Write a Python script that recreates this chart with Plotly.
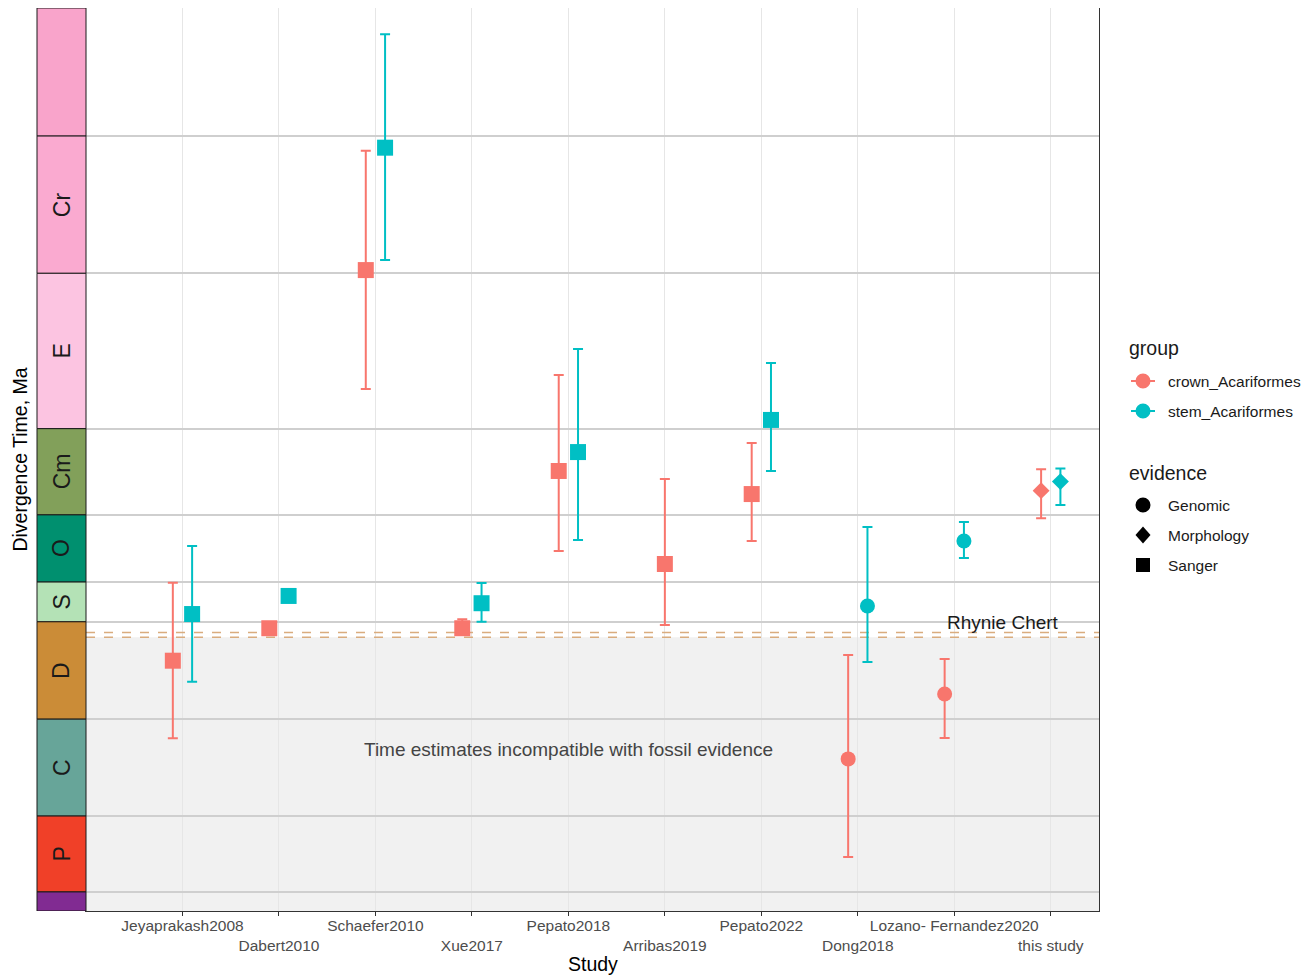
import plotly.graph_objects as go

# ---------------- data ----------------
studies = ["Jeyaprakash2008", "Dabert2010", "Schaefer2010", "Xue2017", "Pepato2018",
           "Arribas2019", "Pepato2022", "Dong2018", "Lozano- Fernandez2020", "this study"]
evidence = ["Sanger", "Sanger", "Sanger", "Sanger", "Sanger",
            "Sanger", "Sanger", "Genomic", "Genomic", "Morphology"]

crown_mean = [395.1, 415.2, 637.0, 415.2, 512.6, 455.0, 498.3, 334.3, 374.5, 500.4]
crown_low = [347.1, None, 563.4, 412.0, 463.0, 417.2, 469.2, 273.6, 347.3, 483.3]
crown_high = [443.4, None, 710.9, 420.8, 572.0, 507.6, 529.9, 398.7, 396.2, 513.6]

stem_mean = [424.0, 435.2, 712.8, 430.7, 524.3, None, 544.2, 429.0, 469.2, 506.0]
stem_low = [382.1, None, 643.2, 419.3, 469.9, None, 512.6, 394.3, 458.7, 491.5]
stem_high = [466.1, None, 783.0, 443.2, 588.1, None, 579.5, 477.9, 481.0, 514.2]

period_abbr = ["", "Cr", "E", "Cm", "O", "S", "D", "C", "P", ""]
period_start = [1000.0, 720.0, 635.0, 538.8, 485.4, 443.8, 419.2, 358.9, 298.9, 251.9]
period_end = [720.0, 635.0, 538.8, 485.4, 443.8, 419.2, 358.9, 298.9, 251.9, 201.4]
period_colors = ["#F9A4CB", "#FAAAD0", "#FCC4E1", "#82A05A", "#00906F",
                 "#B4E2B6", "#CB8C37", "#67A599", "#F04028", "#812B92"]

rhynie_chert = [412.5, 409.6]
fossil_floor = 409.6

group_names = ["crown_Acariformes", "stem_Acariformes"]
group_colors = ["#F8766D", "#00BFC4"]
evidence_levels = ["Genomic", "Morphology", "Sanger"]
evidence_symbols = {"Genomic": "circle", "Morphology": "diamond", "Sanger": "square"}
evidence_sizes = {"Genomic": 15, "Morphology": 13, "Sanger": 16}

# ---------------- layout constants ----------------
BODY = 8  # default page margin around the plot div
W, H = 1300, 967
ML, MR, MT, MB = 78, 209, 0, 64
YR = [240.1, 799.3]
XR = [0, 10.5]
PW = W - ML - MR
PH = H - MT - MB
FONT = "Liberation Sans, Arial, Helvetica, sans-serif"
TITLE_SIZE = 19.5
NOTE_SIZE = 19
TICK_SIZE = 15.5


def xp(px):
    """page pixel x -> paper fraction"""
    return (px - BODY - ML) / PW


def yp(py):
    """page pixel y -> paper fraction"""
    return (BODY + H - MB - py) / PH


fig = go.Figure()

# ---------------- data traces ----------------
for gi, (gname, mean, low, high) in enumerate([
        (group_names[0], crown_mean, crown_low, crown_high),
        (group_names[1], stem_mean, stem_low, stem_high)]):
    xs, ys, ep, em, syms, sizes, names = [], [], [], [], [], [], []
    for i, m in enumerate(mean):
        if m is None:
            continue
        other = stem_mean[i] if gi == 0 else crown_mean[i]
        off = 0.0 if other is None else (-0.1 if gi == 0 else 0.1)
        xs.append(i + 1 + off)
        ys.append(m)
        ep.append(None if high[i] is None else high[i] - m)
        em.append(None if low[i] is None else m - low[i])
        syms.append(evidence_symbols[evidence[i]])
        sizes.append(evidence_sizes[evidence[i]])
        names.append(studies[i])
    fig.add_trace(go.Scatter(
        x=xs, y=ys, mode="markers", name=gname, showlegend=False,
        marker=dict(color=group_colors[gi], symbol=syms, size=sizes, opacity=1,
                    line=dict(width=0)),
        error_y=dict(type="data", symmetric=False, array=ep, arrayminus=em,
                     color=group_colors[gi], thickness=2, width=5),
        hovertext=names,
    ))

shapes = []
annotations = []

# grey "incompatible" zone
shapes.append(dict(type="rect", xref="x", yref="y", x0=XR[0], x1=XR[1],
                   y0=YR[0], y1=fossil_floor, fillcolor="#F1F1F1",
                   line=dict(width=0), layer="below"))
# Rhynie chert dashed lines
for rc in rhynie_chert:
    shapes.append(dict(type="line", xref="x", yref="y", x0=XR[0], x1=XR[1], y0=rc, y1=rc,
                       line=dict(color="#D9AC7E", width=1.5, dash="dash"), layer="between"))

# geologic period strip
sx0 = xp(37)
for abbr, s, e, c in zip(period_abbr, period_start, period_end, period_colors):
    top = min(s, YR[1])
    bot = max(e, YR[0])
    if top <= bot:
        continue
    shapes.append(dict(type="rect", xref="paper", yref="y", x0=sx0, x1=0,
                       y0=bot, y1=top, fillcolor=c, line=dict(color="#1a1a1a", width=1),
                       layer="above"))
    if abbr:
        annotations.append(dict(xref="paper", yref="y", x=sx0 / 2, y=(top + bot) / 2,
                                xanchor="center", yanchor="middle",
                                text=abbr, showarrow=False, textangle=-90,
                                font=dict(family=FONT, size=23, color="#1a1a1a")))

annotations.append(dict(xref="x", yref="y", x=9.505, y=418.7, text="Rhynie Chert",
                        xanchor="center", yanchor="middle",
                        showarrow=False, font=dict(family=FONT, size=NOTE_SIZE, color="#1a1a1a")))
annotations.append(dict(xref="x", yref="y", x=5.0, y=340,
                        xanchor="center", yanchor="middle",
                        text="Time estimates incompatible with fossil evidence",
                        showarrow=False, font=dict(family=FONT, size=NOTE_SIZE, color="#444444")))

# x-axis title (placed below the two rows of study labels)
annotations.append(dict(xref="paper", yref="paper", x=0.5, y=yp(964),
                        xanchor="center", yanchor="middle", text="Study", showarrow=False,
                        font=dict(family=FONT, size=TITLE_SIZE, color="#000000")))

# ---------------- manual legend ----------------
annotations.append(dict(xref="paper", yref="paper", x=xp(1127), y=yp(348), xanchor="left",
                        yanchor="middle", text="group", showarrow=False,
                        font=dict(family=FONT, size=TITLE_SIZE, color="#1a1a1a")))
for k, (gname, col) in enumerate(zip(group_names, group_colors)):
    cy = 381 + 30 * k
    shapes.append(dict(type="line", xref="paper", yref="paper", xsizemode="pixel",
                       ysizemode="pixel", xanchor=xp(1143), yanchor=yp(cy),
                       x0=-12, x1=12, y0=0, y1=0, line=dict(color=col, width=2)))
    shapes.append(dict(type="circle", xref="paper", yref="paper", xsizemode="pixel",
                       ysizemode="pixel", xanchor=xp(1143), yanchor=yp(cy),
                       x0=-7.5, x1=7.5, y0=-7.5, y1=7.5, fillcolor=col, line=dict(width=0)))
    annotations.append(dict(xref="paper", yref="paper", x=xp(1166), y=yp(cy), xanchor="left",
                            yanchor="middle", text=gname, showarrow=False,
                            font=dict(family=FONT, size=TICK_SIZE, color="#1a1a1a")))

annotations.append(dict(xref="paper", yref="paper", x=xp(1127), y=yp(473), xanchor="left",
                        yanchor="middle", text="evidence", showarrow=False,
                        font=dict(family=FONT, size=TITLE_SIZE, color="#1a1a1a")))
for k, ev in enumerate(evidence_levels):
    cy = 505 + 30 * k
    sym = evidence_symbols[ev]
    base = dict(xref="paper", yref="paper", xsizemode="pixel", ysizemode="pixel",
                xanchor=xp(1143), yanchor=yp(cy), fillcolor="black", line=dict(width=0))
    if sym == "circle":
        shapes.append(dict(base, type="circle", x0=-7.5, x1=7.5, y0=-7.5, y1=7.5))
    elif sym == "square":
        shapes.append(dict(base, type="rect", x0=-7, x1=7, y0=-7, y1=7))
    else:
        shapes.append(dict(base, type="path", path="M0,8.5 L7.5,0 L0,-8.5 L-7.5,0 Z"))
    annotations.append(dict(xref="paper", yref="paper", x=xp(1166), y=yp(cy), xanchor="left",
                            yanchor="middle", text=ev, showarrow=False,
                            font=dict(family=FONT, size=TICK_SIZE, color="#1a1a1a")))

ticktext = [s if i % 2 == 0 else "<br>" + s for i, s in enumerate(studies)]
boundaries = [b for b in period_start if YR[0] < b < YR[1]]

fig.update_layout(
    width=W, height=H,
    margin=dict(l=ML, r=MR, t=MT, b=MB, pad=0, autoexpand=False),
    paper_bgcolor="white", plot_bgcolor="white",
    showlegend=False,
    shapes=shapes, annotations=annotations,
    font=dict(family=FONT, color="#1a1a1a"),
    xaxis=dict(range=XR, tickmode="array", tickvals=list(range(1, len(studies) + 1)),
               ticktext=ticktext, tickangle=0, automargin=False, ticklabelstandoff=-4,
               showgrid=True, gridcolor="#E6E6E6", gridwidth=1.3,
               zeroline=False, showline=True, mirror=True, linecolor="#333333", linewidth=1,
               ticks="outside", ticklen=4, tickwidth=1, tickcolor="#333333",
               tickfont=dict(family=FONT, size=TICK_SIZE, color="#4D4D4D")),
    yaxis=dict(range=YR, tickmode="array", tickvals=boundaries, showticklabels=False,
               automargin=False,
               ticks="", showgrid=True, gridcolor="#CFCFCF", gridwidth=1.5,
               zeroline=False, showline=True, mirror=True, linecolor="#333333", linewidth=1,
               title=dict(text="Divergence Time, Ma",
                          font=dict(family=FONT, size=TITLE_SIZE, color="#000000"), standoff=52)),
)

fig.write_html("out.html")
